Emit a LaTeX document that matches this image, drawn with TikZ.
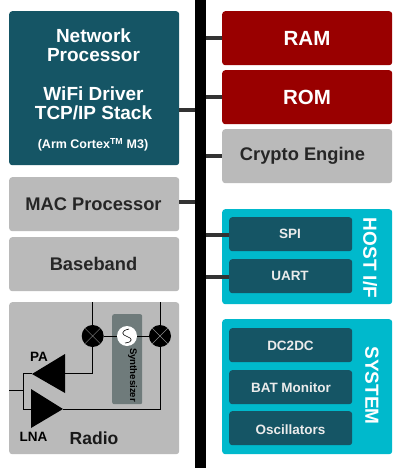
\documentclass[tikz,border=0pt]{standalone}
\usepackage{fontspec}
\setmainfont{Liberation Sans}
\definecolor{teal}{HTML}{155565}
\definecolor{cyanbg}{HTML}{00B9CC}
\definecolor{redbox}{HTML}{990000}
\definecolor{greybox}{HTML}{BABABA}
\definecolor{synth}{HTML}{6F7B7B}
\definecolor{conn}{HTML}{333333}
\tikzset{
 x=1pt,y=-1pt,
 box/.style={rounded corners=3pt,inner sep=0pt,anchor=north west},
 tealbox/.style={box,fill=teal,text=white},
 redb/.style={box,fill=redbox,minimum width=170pt,minimum height=54pt},
 greyb/.style={box,fill=greybox,minimum width=170pt,minimum height=54pt},
 cyanb/.style={box,fill=cyanbg,minimum width=170pt},
 inner/.style={tealbox,minimum width=123pt,minimum height=34pt},
 redtxt/.style={inner sep=0pt,text=white,font=\bfseries\fontsize{20.5}{22}\selectfont},
 greytxt/.style={inner sep=0pt,text=black!85,font=\bfseries\fontsize{18.3}{20}\selectfont},
 netfont/.style={text=white,inner sep=0pt,align=center,font=\bfseries\fontsize{19}{19}\selectfont},
 intxt/.style={inner sep=0pt,text=white!92!black,font=\bfseries\fontsize{13.5}{15}\selectfont},
 link/.style={conn,line width=4pt},
 wire/.style={black,line width=0.8pt},
 mixer/.style={circle,fill=black,minimum size=22pt,inner sep=0pt},
 amp/.style={fill=black},
 side/.style={text=white,font=\bfseries\fontsize{19}{21}\selectfont,rotate=-90,inner sep=0pt},
 lab/.style={inner sep=0pt,font=\bfseries\fontsize{13.5}{15}\selectfont,text=black},
}
\begin{document}
\begin{tikzpicture}
\useasboundingbox (0,0) rectangle (400,468);
\fill[white] (0,0) rectangle (400,468);
% bus
\node[fill=black,minimum width=11pt,minimum height=468pt,inner sep=0pt,anchor=north west] (bus) at (195,0) {};
% left
\node[tealbox,minimum width=170pt,minimum height=154pt] (net) at (9,11) {};
\node[netfont] (nettxt) at (93.5,45.5) {Network\\Processor};
\node[netfont] (nettxt2) at (93.5,103.5) {WiFi Driver\\TCP/IP Stack};
\node[text=white,inner sep=0pt,font=\bfseries\fontsize{12.5}{14}\selectfont] (nettxt3) at (93,145) {(Arm Cortex\textsuperscript{TM} M3)};
\node[greyb] (mac) at (9,177) {};
\node[greytxt] (mactxt) at (93.5,204) {MAC Processor};
\node[greyb] (bb) at (9,237) {};
\node[greytxt] (bbtxt) at (93.5,264) {Baseband};
\node[box,fill=greybox,minimum width=170pt,minimum height=152pt] (radio) at (9,302) {};
% right
\node[redb] (ram) at (222,11) {};
\node[redtxt] (ramtxt) at (307,38) {RAM};
\node[redb] (rom) at (222,70) {};
\node[redtxt] (romtxt) at (307,97) {ROM};
\node[greyb] (crypto) at (222,129) {};
\node[greytxt] (cryptotxt) at (302.5,156) {Crypto Engine};
\node[cyanb,minimum height=95pt] (host) at (222,209) {};
\node[cyanb,minimum height=135pt] (sys) at (222,319) {};
\node[inner] (spi) at (229,217) {};
\node[intxt] (spitxt) at (290,234) {SPI};
\node[inner] (uart) at (229,259) {};
\node[intxt] (uarttxt) at (290,275.5) {UART};
\node[inner] (dc) at (229,328) {};
\node[intxt] (dctxt) at (290.5,345.5) {DC2DC};
\node[inner] (bat) at (229,370) {};
\node[intxt] (battxt) at (291,388) {BAT Monitor};
\node[inner] (osc) at (229,411) {};
\node[intxt] (osctxt) at (290.5,430) {Oscillators};
\node[side] (hosttxt) at (370,258) {HOST I/F};
\node[side] (systxt) at (372,385.5) {SYSTEM};
% links
\draw[link] (net.east |- 0,110) -- (bus.west |- 0,110);
\draw[link] (mac.east |- 0,202) -- (bus.west |- 0,202);
\draw[link] (bus.east |- ram.west) -- (ram.west);
\draw[link] (bus.east |- rom.west) -- (rom.west);
\draw[link] (bus.east |- crypto.west) -- (crypto.west);
\draw[link] (bus.east |- 0,235) -- (spi.west |- 0,235);
\draw[link] (bus.east |- 0,277) -- (uart.west |- 0,277);
% radio
\node[box,fill=synth,minimum width=30pt,minimum height=90pt,rounded corners=2pt] (syn) at (112,314) {};
\node[mixer] (m1) at (92.7,336) {};
\node[mixer] (m2) at (160,336) {};
\draw[white!55!black,line width=0.4pt] (m1.north west)--(m1.south east) (m1.north east)--(m1.south west) (m2.north west)--(m2.south east) (m2.north east)--(m2.south west);
\draw[wire] (m1) -- (m2);
\node[circle,fill=white,minimum size=20pt,inner sep=0pt] (osci) at (127,336) {};
\draw[black,line width=0.6pt] (129,329) .. controls (120,331) and (122,335) .. (127,336.5) .. controls (132,338) and (134,342) .. (125,343);
\node[inner sep=0pt,rotate=-90,font=\bfseries\fontsize{9.6}{11}\selectfont,text=black] (syntxt) at (132.5,375) {Synthesizer};
\coordinate (m1top) at (92.7,302);
\coordinate (m2top) at (160,302);
\draw[wire] (m1top) -- (m1);
\draw[wire] (m2top) -- (m2);
\node[inner sep=0pt,minimum size=0pt] (pa) at (65,373.5) {};
\node[inner sep=0pt,minimum size=0pt] (lna) at (63,409) {};
\coordinate (pat) at (32,373.5);
\coordinate (lnat) at (31,409);
\coordinate (jn) at (23.5,373.5);
\coordinate (jl) at (23.5,409);
\coordinate (inl) at (9,390);
\coordinate (inr) at (23.5,390);
\draw[wire] (m1) |- (pa);
\draw[wire] (m2) |- (lna);
\draw[wire] (pat) -- (jn) -- (jl) -- (lnat);
\draw[wire] (inl) -- (inr);
\fill[amp] (32,374) -- (65,354) -- (65,393) -- cycle;
\fill[amp] (63,409) -- (31,389) -- (31,428) -- cycle;
\node[lab] (patxt) at (39,356.5) {PA};
\node[lab] (lnatxt) at (33.5,437) {LNA};
\node[inner sep=0pt,font=\bfseries\fontsize{17.5}{19}\selectfont,text=black!90] (radiotxt) at (94,438) {Radio};
\end{tikzpicture}
\end{document}
